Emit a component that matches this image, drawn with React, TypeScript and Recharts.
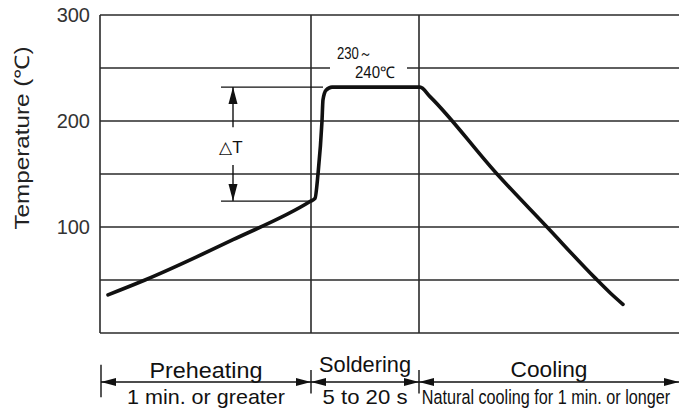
import React from 'react';
import {
  ComposedChart,
  Line,
  XAxis,
  YAxis,
  CartesianGrid,
  ReferenceLine,
  ReferenceDot,
} from 'recharts';

// reflow profile (time in arbitrary units, temperature in ℃)
const timeUnits = [4, 22.5, 66.5, 105, 107.5, 109, 111, 111.5, 113, 116, 160, 165, 198.5, 223.5, 247.5, 255, 261.5];
const temperatures = [36, 50, 88, 124, 127, 150, 200, 220, 229, 232, 232, 223, 150, 100, 52, 38, 27];

const tempTicks = [0, 50, 100, 150, 200, 250, 300];
const labelledTicks = [100, 200, 300];

const phaseEdges = [0.5, 105.5, 159.5, 289.5];
const phaseNames = ['Preheating', 'Soldering', 'Cooling'];
const phaseNotes = ['1 min. or greater', '5 to 20 s', 'Natural cooling for 1 min. or longer'];
const phaseNameTemps = [-35.4, -29.7, -34.4];
const phaseNoteTemps = [-60.4, -60.4, -60.4];
const phaseNoteShift = [0, 0, -1.5];
const phaseNameWidths = [113, 92, 77];
const phaseNoteWidths = [158, 85, 0];

const deltaTRange = [124.5, 232];
const peakLabels = ['230～', '240℃'];

const data = timeUnits.map((t, i) => ({ t, temp: temperatures[i] }));

const INK = '#111';
const GRID = '#2a2a2a';
const FONT = '"Liberation Sans", Arial, Helvetica, sans-serif';

function arrowLine(startHead: boolean, endHead: boolean, len: number, half: number, width: number) {
  return (p: any) => {
    const { x1, y1, x2, y2 } = p;
    const dx = x2 - x1;
    const dy = y2 - y1;
    const d = Math.hypot(dx, dy) || 1;
    const ux = dx / d;
    const uy = dy / d;
    const head = (tx: number, ty: number, dir: number) => {
      const bx = tx - dir * ux * len;
      const by = ty - dir * uy * len;
      return `${tx},${ty} ${bx - uy * half},${by + ux * half} ${bx + uy * half},${by - ux * half}`;
    };
    return (
      <g>
        <line x1={x1} y1={y1} x2={x2} y2={y2} stroke={INK} strokeWidth={width} />
        {startHead && <polygon points={head(x1, y1, -1)} fill={INK} />}
        {endHead && <polygon points={head(x2, y2, 1)} fill={INK} />}
      </g>
    );
  };
}

function textShape(value: string, size: number, width?: number) {
  return (p: any) => (
    <text
      x={p.cx}
      y={p.cy}
      dy="0.35em"
      textAnchor="middle"
      fontFamily={FONT}
      fontSize={size}
      fill={INK}
      textLength={width || undefined}
      lengthAdjust={width ? 'spacingAndGlyphs' : undefined}
    >
      {value}
    </text>
  );
}

// condensed look: smaller font stretched vertically
function tallTextShape(value: string, size: number, stretch: number) {
  return (p: any) => (
    <text
      x={0}
      y={0}
      dy="0.35em"
      transform={`translate(${p.cx} ${p.cy}) scale(1 ${stretch})`}
      textAnchor="middle"
      fontFamily={FONT}
      fontSize={size}
      fill={INK}
    >
      {value}
    </text>
  );
}

export default function App() {
  const mids = phaseNames.map((_, i) => (phaseEdges[i] + phaseEdges[i + 1]) / 2);

  return (
    <div style={{ width: 679, height: 413, background: '#fff' }}>
      <style>{'body{margin:0;background:#fff}'}</style>
      <ComposedChart
        width={679}
        height={413}
        data={data}
        margin={{ top: 15, right: 0, bottom: 80, left: 0 }}
      >
        <CartesianGrid horizontal vertical={false} stroke={GRID} strokeWidth={1.6} />
        <XAxis type="number" dataKey="t" domain={[0, 289.5]} hide />
        <YAxis
          type="number"
          domain={[0, 300]}
          ticks={tempTicks}
          width={100}
          tickSize={0}
          tickMargin={10}
          axisLine={{ stroke: GRID, strokeWidth: 1.6 }}
          tickLine={false}
          interval={0}
          tickFormatter={(v) => (labelledTicks.includes(v) ? String(v) : '')}
          tick={{ fill: '#333', fontSize: 20, fontFamily: FONT }}
          label={{
            content: (props: any) => {
              const vb = props.viewBox || { x: 0, y: 15 };
              const cx = vb.x + 22;
              const cy = vb.y + 123;
              return (
                <text
                  x={cx}
                  y={cy}
                  dy="0.35em"
                  transform={`rotate(-90 ${cx} ${cy})`}
                  textAnchor="middle"
                  fontFamily={FONT}
                  fontSize={20}
                  fill="#222"
                  textLength={183}
                  lengthAdjust="spacingAndGlyphs"
                >
                  Temperature (℃)
                </text>
              );
            },
          }}
        />

        {/* phase boundaries */}
        {phaseEdges.slice(1, -1).map((x) => (
          <ReferenceLine key={`v-${x}`} x={x} stroke={GRID} strokeWidth={1.6} />
        ))}

        {/* ΔT guide lines */}
        <ReferenceLine
          segment={[{ x: 60.5, y: deltaTRange[1] }, { x: 111.5, y: deltaTRange[1] }]}
          stroke={INK}
          strokeWidth={1.2}
          ifOverflow="visible"
        />
        <ReferenceLine
          segment={[{ x: 60.5, y: deltaTRange[0] }, { x: 105, y: deltaTRange[0] }]}
          stroke={INK}
          strokeWidth={1.2}
          ifOverflow="visible"
        />
        <ReferenceLine
          segment={[{ x: 66.5, y: 194 }, { x: 66.5, y: deltaTRange[1] }]}
          ifOverflow="visible"
          shape={arrowLine(false, true, 17, 4.5, 1.4)}
        />
        <ReferenceLine
          segment={[{ x: 66.5, y: 158.5 }, { x: 66.5, y: deltaTRange[0] }]}
          ifOverflow="visible"
          shape={arrowLine(false, true, 17, 4.5, 1.4)}
        />
        <ReferenceDot x={65.5} y={175.5} r={0} ifOverflow="visible" shape={textShape('△T', 17)} />

        {/* peak temperature note */}
        <ReferenceDot
          x={137.5}
          y={246.2}
          r={0}
          ifOverflow="visible"
          shape={(p: any) => (
            <g>
              <rect x={p.cx - 45} y={p.cy - 7} width={77} height={14} fill="#fff" />
              <text
                x={p.cx}
                y={p.cy}
                dy="0.35em"
                textAnchor="middle"
                fontFamily={FONT}
                fontSize={16}
                fill={INK}
                textLength={40}
                lengthAdjust="spacingAndGlyphs"
              >
                {peakLabels[1]}
              </text>
            </g>
          )}
        />
        <ReferenceDot x={127.25} y={264.2} r={0} ifOverflow="visible" shape={textShape(peakLabels[0], 16, 35)} />

        <Line
          type="monotone"
          dataKey="temp"
          stroke={INK}
          strokeWidth={3.6}
          strokeLinecap="round"
          strokeLinejoin="round"
          dot={false}
          activeDot={false}
          isAnimationActive={false}
        />

        {/* phase arrows below the chart */}
        <ReferenceLine
          segment={[{ x: phaseEdges[0], y: -30 }, { x: phaseEdges[0], y: -60.5 }]}
          stroke={INK}
          strokeWidth={1.4}
          ifOverflow="visible"
        />
        {phaseEdges.slice(1, -1).map((x) => (
          <ReferenceLine
            key={`sep-${x}`}
            segment={[{ x, y: -35 }, { x, y: -57 }]}
            stroke={INK}
            strokeWidth={1.4}
            ifOverflow="visible"
          />
        ))}
        {phaseNames.map((name, i) => (
          <ReferenceLine
            key={`arrow-${name}`}
            segment={[{ x: phaseEdges[i], y: -46.2 }, { x: phaseEdges[i + 1], y: -46.2 }]}
            ifOverflow="visible"
            shape={arrowLine(true, true, 15, 4, 1.4)}
          />
        ))}
        {phaseNames.map((name, i) => (
          <ReferenceDot
            key={`name-${name}`}
            x={mids[i]}
            y={phaseNameTemps[i]}
            r={0}
            ifOverflow="visible"
            shape={textShape(name, 21.5, phaseNameWidths[i])}
          />
        ))}
        {phaseNotes.map((note, i) => (
          <ReferenceDot
            key={`note-${i}`}
            x={mids[i] + phaseNoteShift[i]}
            y={phaseNoteTemps[i]}
            r={0}
            ifOverflow="visible"
            shape={
              phaseNoteWidths[i]
                ? textShape(note, 21, phaseNoteWidths[i])
                : tallTextShape(note, 16.2, 1.25)
            }
          />
        ))}
      </ComposedChart>
    </div>
  );
}
